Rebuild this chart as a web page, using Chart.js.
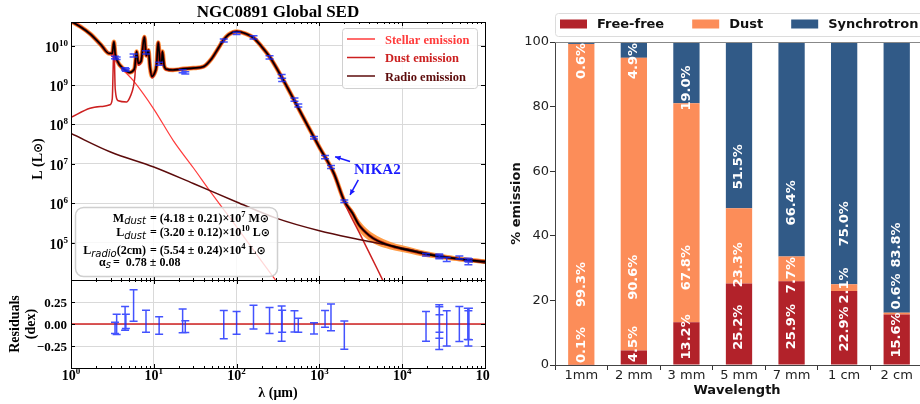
<!DOCTYPE html>
<html>
<head>
<meta charset="utf-8">
<script src="https://cdn.jsdelivr.net/npm/chart.js@4.4.1/dist/chart.umd.min.js"></script>
<style>
  html, body { margin: 0; padding: 0; background: #fff; width: 920px; height: 404px; overflow: hidden; position: relative; }
  canvas { position: absolute; }
  #sed { left: 0; top: 0; }
  #res { left: 0; top: 276px; }
  #bars { left: 490px; top: 0; }
</style>
</head>
<body>
<canvas id="sed" width="490" height="282"></canvas>
<canvas id="res" width="490" height="128"></canvas>
<canvas id="bars" width="433" height="404"></canvas>
<script>
// ---- SED model curves: wavelength (micron), log10 L (Lsun)
const totalLam  = [1, 1.3, 1.7, 2.3, 2.9, 3.15, 3.3, 3.42, 3.6, 4.3, 5.16, 5.6, 5.9, 6.2, 6.5, 7.0, 7.7, 8.1, 8.6, 9.0, 9.5, 10.2, 10.8, 11.3, 11.9, 12.4, 12.7, 13.3, 14.3, 17, 20.7, 30, 40, 50, 60, 70, 80, 100, 130, 160, 200, 250, 300, 400, 500, 700, 1000, 1500, 2000, 2500, 3000, 4000, 5000, 7000, 10000, 15000, 20000, 30000, 50000, 100000];
const totalLogL = [10.62, 10.48, 10.3, 10.02, 9.8, 9.8, 10.1, 9.78, 9.62, 9.41, 9.32, 9.36, 9.45, 9.85, 9.55, 9.6, 10.22, 9.75, 9.88, 9.45, 9.22, 9.3, 9.5, 10.08, 9.6, 9.55, 9.85, 9.5, 9.4, 9.38, 9.4, 9.43, 9.47, 9.67, 9.93, 10.15, 10.28, 10.36, 10.3, 10.2, 9.98, 9.72, 9.45, 8.98, 8.6, 8.02, 7.42, 6.75, 6.05, 5.75, 5.45, 5.18, 5.05, 4.93, 4.84, 4.76, 4.70, 4.64, 4.58, 4.52];

const stellarLam  = [1, 1.3, 1.7, 2.3, 3.24, 4.3, 5.66, 10, 17.2, 30, 50, 100, 200, 320];
const stellarLogL = [10.68, 10.5, 10.3, 10.0, 9.7, 9.38, 9.11, 8.39, 7.59, 6.9, 6.25, 5.4, 4.53, 3.95];

const dustLam  = [1, 1.7, 2.5, 2.96, 3.15, 3.3, 3.42, 3.73, 4.7, 5.3, 5.66, 5.9, 6.2, 6.5, 7.0, 7.7, 8.1, 8.6, 9.0, 9.5, 10.2, 10.8, 11.3, 11.9, 12.4, 12.7, 13.3, 14.3, 17, 20.7, 30, 40, 50, 60, 70, 80, 100, 130, 160, 200, 250, 300, 400, 500, 700, 1000, 1500, 2000, 3000, 5000, 7000];
const dustLogL = [8.18, 8.41, 8.46, 8.5, 8.65, 10.05, 8.9, 8.6, 8.57, 8.75, 8.95, 9.2, 9.8, 9.5, 9.57, 10.2, 9.72, 9.86, 9.42, 9.18, 9.27, 9.47, 10.06, 9.58, 9.53, 9.84, 9.48, 9.38, 9.37, 9.39, 9.42, 9.46, 9.66, 9.92, 10.14, 10.27, 10.355, 10.3, 10.2, 9.98, 9.72, 9.45, 8.98, 8.6, 8.02, 7.41, 6.72, 6.02, 5.27, 4.33, 3.7];

const radioLam  = [1, 3, 10, 30, 100, 300, 1000, 3000, 10000, 30000, 100000];
const radioLogL = [7.77, 7.3, 6.92, 6.5, 6.03, 5.62, 5.3, 5.08, 4.86, 4.66, 4.48];

// posterior spread of the total model
const envLam  = [1000, 1500, 2000, 2500, 3000, 4000, 5000, 7000, 10000, 15000, 20000, 30000, 50000, 100000];
const envHigh = [7.45, 6.79, 6.09, 5.85, 5.58, 5.30, 5.17, 5.03, 4.93, 4.84, 4.78, 4.71, 4.64, 4.57];
const envLow  = [7.39, 6.71, 6.01, 5.65, 5.30, 5.05, 4.93, 4.83, 4.76, 4.68, 4.63, 4.58, 4.52, 4.46];

// ---- photometry
const obsLam  = [3.4, 3.56, 4.5, 4.6, 5.7, 8.05, 11.6, 22.3, 24, 70, 100, 160, 250, 350, 355, 500, 556, 860, 1170, 1380, 2000, 19400, 28000, 28100, 28200, 34500, 49000, 62000, 63000, 64000];
const obsLogL = [9.70, 9.68, 9.41, 9.38, 9.75, 9.83, 9.54, 9.35, 9.31, 10.13, 10.31, 10.21, 9.70, 9.22, 9.13, 8.63, 8.48, 7.66, 7.17, 6.92, 6.05, 4.69, 4.66, 4.63, 4.65, 4.57, 4.62, 4.56, 4.49, 4.55];
const obsErr  = [0.03, 0.03, 0.03, 0.03, 0.04, 0.04, 0.04, 0.04, 0.03, 0.04, 0.03, 0.04, 0.04, 0.05, 0.04, 0.04, 0.04, 0.03, 0.04, 0.04, 0.03, 0.03, 0.05, 0.04, 0.03, 0.05, 0.04, 0.04, 0.05, 0.04];
const resVal  = [-0.044, -0.004, 0.065, 0.03, 0.21, 0.03, -0.017, 0.035, -0.03, -0.008, 0.013, 0.077, 0.04, 0.005, 0.03, 0.03, -0.015, -0.05, 0.058, 0.075, -0.127, -0.027, -0.035, 0.017, 0.005, -0.05, 0.0, 0.002, -0.05, 0.0];
const resErr  = [0.063, 0.115, 0.135, 0.08, 0.18, 0.125, 0.1, 0.135, 0.067, 0.16, 0.13, 0.135, 0.148, 0.2, 0.125, 0.12, 0.08, 0.065, 0.095, 0.152, 0.16, 0.17, 0.255, 0.18, 0.1, 0.2, 0.2, 0.178, 0.2, 0.18];

// ---- emission fractions (%)
const bandLabels  = ['1mm', '2 mm', '3 mm', '5 mm', '7 mm', '1 cm', '2 cm'];
const freeFree    = [0.1, 4.5, 13.2, 25.2, 25.9, 22.9, 15.6];
const dustPct     = [99.3, 90.6, 67.8, 23.3, 7.7, 2.1, 0.6];
const synchrotron = [0.6, 4.9, 19.0, 51.5, 66.4, 75.0, 83.8];

const serif = '"Liberation Serif", "DejaVu Serif", serif';
const sans = '"DejaVu Sans", sans-serif';
const errBlue = 'rgba(20,40,255,0.8)';

function pts(lam, logL) {
  return lam.map((l, i) => ({ x: Math.log10(l), y: logL[i] }));
}

function runs(ctx, parts, x, y, align) {
  let w = 0;
  parts.forEach(p => { ctx.font = p[1]; w += ctx.measureText(p[0]).width; });
  let cx = align === 'right' ? x - w : align === 'center' ? x - w / 2 : x;
  ctx.textAlign = 'left';
  ctx.textBaseline = 'alphabetic';
  parts.forEach(p => {
    ctx.font = p[1];
    ctx.fillText(p[0], cx, y + (p[2] || 0));
    cx += ctx.measureText(p[0]).width;
  });
}

function vtext(ctx, txt, x, y, font, color) {
  ctx.save();
  ctx.translate(x, y);
  ctx.rotate(-Math.PI / 2);
  ctx.font = font;
  ctx.fillStyle = color;
  ctx.textAlign = 'center';
  ctx.textBaseline = 'middle';
  ctx.fillText(txt, 0, 0);
  ctx.restore();
}

function pow10(ctx, exp, x, y, align) {
  runs(ctx, [['10', 'bold 14px ' + serif], [String(exp), 'bold 9px ' + serif, -6]], x, y, align);
}

function frame(ctx, chart, yMajors) {
  const a = chart.chartArea, xs = chart.scales.x, ys = chart.scales.y;
  ctx.save();
  ctx.strokeStyle = '#000';
  ctx.lineWidth = 1;
  ctx.beginPath();
  for (let n = 0; n <= 5; n++) {
    for (let k = 1; k <= 9; k++) {
      const v = n + Math.log10(k);
      if (v > 5.0001) continue;
      const px = Math.round(xs.getPixelForValue(v)) + 0.5;
      const len = k === 1 ? 4 : 2;
      ctx.moveTo(px, a.bottom); ctx.lineTo(px, a.bottom - len);
      ctx.moveTo(px, a.top); ctx.lineTo(px, a.top + len);
    }
  }
  yMajors.forEach(v => {
    const py = Math.round(ys.getPixelForValue(v)) + 0.5;
    ctx.moveTo(a.left, py); ctx.lineTo(a.left + 4, py);
    ctx.moveTo(a.right, py); ctx.lineTo(a.right - 4, py);
  });
  ctx.stroke();
  ctx.strokeRect(Math.round(a.left) + 0.5, Math.round(a.top) + 0.5, Math.round(a.right - a.left), Math.round(a.bottom - a.top));
  ctx.restore();
}

function errorBars(ctx, xs, ys, lam, val, err, cap) {
  ctx.save();
  ctx.strokeStyle = errBlue;
  ctx.lineWidth = 1.5;
  ctx.beginPath();
  lam.forEach((l, i) => {
    const px = xs.getPixelForValue(Math.log10(l));
    const y1 = ys.getPixelForValue(val[i] + err[i]);
    const y2 = ys.getPixelForValue(val[i] - err[i]);
    ctx.moveTo(px, y1); ctx.lineTo(px, y2);
    ctx.moveTo(px - cap, y1); ctx.lineTo(px + cap, y1);
    ctx.moveTo(px - cap, y2); ctx.lineTo(px + cap, y2);
  });
  ctx.stroke();
  ctx.restore();
}

function arrow(ctx, x1, y1, x2, y2) {
  const ang = Math.atan2(y2 - y1, x2 - x1);
  ctx.beginPath();
  ctx.moveTo(x1, y1); ctx.lineTo(x2, y2);
  ctx.stroke();
  ctx.beginPath();
  ctx.moveTo(x2, y2);
  ctx.lineTo(x2 - 6 * Math.cos(ang - 0.45), y2 - 6 * Math.sin(ang - 0.45));
  ctx.lineTo(x2 - 6 * Math.cos(ang + 0.45), y2 - 6 * Math.sin(ang + 0.45));
  ctx.closePath();
  ctx.fill();
}

const gridColor = '#d9d9d9';

// ---------------- SED panel
const sedDecor = {
  id: 'sedDecor',
  afterDatasetsDraw(chart) {
    const ctx = chart.ctx, xs = chart.scales.x, ys = chart.scales.y;
    errorBars(ctx, xs, ys, obsLam, obsLogL, obsErr, 4);
  },
  afterDraw(chart) {
    const ctx = chart.ctx, xs = chart.scales.x, ys = chart.scales.y, a = chart.chartArea;
    frame(ctx, chart, [5, 6, 7, 8, 9, 10]);
    ctx.save();
    ctx.fillStyle = '#000';
    runs(ctx, [['NGC0891 Global SED', 'bold 17px ' + serif]], (a.left + a.right) / 2, 17, 'center');
    for (let k = 5; k <= 10; k++) pow10(ctx, k, 68, ys.getPixelForValue(k) + 6, 'right');
    // y title
    ctx.save();
    ctx.translate(37, (a.top + a.bottom) / 2 + 8);
    ctx.rotate(-Math.PI / 2);
    runs(ctx, [['L (L', 'bold 14px ' + serif], ['\u2299', 'bold 12px ' + sans], [')', 'bold 14px ' + serif]], 0, 5, 'center');
    ctx.restore();

    // legend
    ctx.fillStyle = 'rgba(255,255,255,0.85)';
    ctx.strokeStyle = '#d0d0d0';
    ctx.lineWidth = 1;
    ctx.beginPath();
    ctx.roundRect(342.5, 28.5, 135, 60, 3);
    ctx.fill(); ctx.stroke();
    const leg = [['Stellar emission', '#ff3b3b'], ['Dust emission', '#cc1f1f'], ['Radio emission', '#5c0b0b']];
    leg.forEach((l, i) => {
      const y = 39 + i * 18.5;
      ctx.strokeStyle = l[1];
      ctx.lineWidth = 1.5;
      ctx.beginPath(); ctx.moveTo(347, y); ctx.lineTo(375, y); ctx.stroke();
      ctx.fillStyle = l[1];
      runs(ctx, [[l[0], 'bold 12.5px ' + serif]], 385, y + 4.5, 'left');
    });

    // parameter box
    ctx.fillStyle = 'rgba(255,255,255,0.8)';
    ctx.strokeStyle = '#cfcfcf';
    ctx.beginPath();
    ctx.roundRect(75.5, 207.5, 202, 69, 8);
    ctx.fill(); ctx.stroke();
    ctx.fillStyle = '#000';
    const B = 'bold 12px ' + serif, S = 'bold 8.5px ' + serif, I = 'oblique 10px ' + sans, O = 'bold 11px ' + sans;
    runs(ctx, [['M', B], ['dust', I, 2.5]], 146, 221.5, 'right');
    runs(ctx, [['= (4.18 \u00b1 0.21)\u00d710', B], ['7', S, -5], [' M', B], ['\u2299', O]], 150, 221.5, 'left');
    runs(ctx, [['L', B], ['dust', I, 2.5]], 146, 236, 'right');
    runs(ctx, [['= (3.20 \u00b1 0.12)\u00d710', B], ['10', S, -5], [' L', B], ['\u2299', O]], 150, 236, 'left');
    runs(ctx, [['L', B], ['radio', I, 2.5], ['(2cm)', B]], 146, 254, 'right');
    runs(ctx, [['= (5.54 \u00b1 0.24)\u00d710', B], ['4', S, -5], [' L', B], ['\u2299', O]], 150, 254, 'left');
    runs(ctx, [['\u03b1', B], ['s', I, 2.5]], 111, 265.5, 'right');
    runs(ctx, [['=  0.78 \u00b1 0.08', B]], 113, 265.5, 'left');

    // NIKA2 annotation
    ctx.fillStyle = '#1a1aff';
    ctx.strokeStyle = '#1a1aff';
    ctx.lineWidth = 1.5;
    arrow(ctx, xs.getPixelForValue(3.37), ys.getPixelForValue(7.06), xs.getPixelForValue(3.19), ys.getPixelForValue(7.18));
    arrow(ctx, xs.getPixelForValue(3.47), ys.getPixelForValue(6.59), xs.getPixelForValue(3.37), ys.getPixelForValue(6.21));
    runs(ctx, [['NIKA2', 'bold 15px ' + serif]], xs.getPixelForValue(3.7), ys.getPixelForValue(6.87) + 5, 'center');
    ctx.restore();
  }
};

new Chart(document.getElementById('sed'), {
  type: 'line',
  data: {
    datasets: [
      { data: pts(envLam, envHigh), borderWidth: 0, fill: '+1', backgroundColor: 'rgba(255,140,40,0.85)', order: 10 },
      { data: pts(envLam, envLow), borderWidth: 0, fill: false, order: 10 },
      { data: pts(totalLam, totalLogL), borderColor: '#ff9d45', borderWidth: 4.5, order: 9 },
      { data: pts(totalLam, totalLogL), borderColor: '#b01c0c', borderWidth: 3, order: 8 },
      { data: pts(stellarLam, stellarLogL), borderColor: '#ff3b3b', borderWidth: 1.2, order: 5 },
      { data: pts(dustLam, dustLogL), borderColor: '#cc1f1f', borderWidth: 1.5, order: 4 },
      { data: pts(radioLam, radioLogL), borderColor: '#5c0b0b', borderWidth: 1.5, order: 3 },
      { data: pts(totalLam, totalLogL), borderColor: '#000', borderWidth: 1.6, order: 1 }
    ]
  },
  options: {
    responsive: false,
    animation: false,
    events: [],
    layout: { padding: { top: 22, right: 5, left: 0, bottom: 0 } },
    elements: {
      point: { radius: 0 },
      line: { cubicInterpolationMode: 'monotone', borderJoinStyle: 'round' }
    },
    scales: {
      x: {
        type: 'linear', min: 0, max: 5,
        ticks: { display: false, stepSize: 1 },
        grid: { color: gridColor, drawTicks: false },
        border: { display: false },
        afterFit: s => { s.height = 2; }
      },
      y: {
        type: 'linear', min: 4.05, max: 10.6,
        ticks: { display: false, stepSize: 1 },
        grid: { color: gridColor, drawTicks: false },
        border: { display: false },
        afterFit: s => { s.width = 71; }
      }
    },
    plugins: { legend: { display: false }, tooltip: { enabled: false } }
  },
  plugins: [sedDecor]
});

// ---------------- residual panel
const resDecor = {
  id: 'resDecor',
  afterDatasetsDraw(chart) {
    errorBars(chart.ctx, chart.scales.x, chart.scales.y, obsLam, resVal, resErr, 4);
  },
  afterDraw(chart) {
    const ctx = chart.ctx, xs = chart.scales.x, ys = chart.scales.y, a = chart.chartArea;
    frame(ctx, chart, [-0.25, 0, 0.25]);
    ctx.save();
    ctx.fillStyle = '#000';
    [[0.25, '0.25'], [0, '0.00'], [-0.25, '\u22120.25']].forEach(t => {
      runs(ctx, [[t[1], 'bold 13px ' + serif]], 67, ys.getPixelForValue(t[0]) + 4.5, 'right');
    });
    for (let k = 0; k <= 5; k++) pow10(ctx, k, xs.getPixelForValue(k), 104, 'center');
    runs(ctx, [['\u03bb (\u03bcm)', 'bold 14px ' + serif]], (a.left + a.right) / 2, 121, 'center');
    vtext(ctx, 'Residuals', 15, (a.top + a.bottom) / 2, 'bold 14px ' + serif, '#000');
    vtext(ctx, '(dex)', 31, (a.top + a.bottom) / 2, 'bold 14px ' + serif, '#000');
    ctx.restore();
  }
};

new Chart(document.getElementById('res'), {
  type: 'line',
  data: {
    datasets: [
      { data: [{ x: 0, y: 0 }, { x: 5, y: 0 }], borderColor: '#d02020', borderWidth: 1.3 }
    ]
  },
  options: {
    responsive: false,
    animation: false,
    events: [],
    layout: { padding: { top: 4, right: 5, left: 0, bottom: 0 } },
    elements: { point: { radius: 0 } },
    scales: {
      x: {
        type: 'linear', min: 0, max: 5,
        ticks: { display: false, stepSize: 1 },
        grid: { color: gridColor, drawTicks: false },
        border: { display: false },
        afterFit: s => { s.height = 36; }
      },
      y: {
        type: 'linear', min: -0.5, max: 0.5,
        ticks: { display: false, stepSize: 0.25 },
        grid: { color: gridColor, drawTicks: false },
        border: { display: false },
        afterFit: s => { s.width = 71; }
      }
    },
    plugins: { legend: { display: false }, tooltip: { enabled: false } }
  },
  plugins: [resDecor]
});

// ---------------- emission fractions panel
const barColors = ['#b2222a', '#fc8d59', '#315a87'];

const barDecor = {
  id: 'barDecor',
  afterDatasetsDraw(chart) {
    const ctx = chart.ctx, xs = chart.scales.x, ys = chart.scales.y;
    const unit = (ys.bottom - ys.top) / 100;
    ctx.save();
    ctx.font = 'bold 13px ' + sans;
    ctx.fillStyle = '#fff';
    ctx.textAlign = 'center';
    ctx.textBaseline = 'middle';
    bandLabels.forEach((lab, i) => {
      let base = 0, prevTop = ys.bottom + 1;
      const px = xs.getPixelForValue(i) - 1;
      chart.data.datasets.forEach((ds, j) => {
        const v = ds.data[i];
        const txt = v.toFixed(1) + '%';
        const half = ctx.measureText(txt).width / 2;
        let c = ys.getPixelForValue(base + v / 4) - (j === 0 ? 5.4 * unit : 0);
        if (c + half > prevTop - 3) c = prevTop - 3 - half;
        if (c - half < ys.top + 1) c = ys.top + 1 + half;
        ctx.save();
        ctx.translate(px, c);
        ctx.rotate(-Math.PI / 2);
        ctx.fillText(txt, 0, 1);
        ctx.restore();
        prevTop = c - half;
        base += v;
      });
    });
    ctx.restore();
  },
  afterDraw(chart) {
    const ctx = chart.ctx, a = chart.chartArea;
    ctx.save();
    ctx.strokeStyle = '#888';
    ctx.lineWidth = 1;
    ctx.beginPath();
    ctx.moveTo(a.left, a.top + 0.5); ctx.lineTo(a.right, a.top + 0.5);
    ctx.stroke();
    // legend
    ctx.fillStyle = 'rgba(255,255,255,0.9)';
    ctx.strokeStyle = '#dcdcdc';
    ctx.beginPath();
    ctx.roundRect(65.5, 13.5, 380, 23, 3);
    ctx.fill(); ctx.stroke();
    let x = 70;
    ctx.font = 'bold 13px ' + sans;
    ctx.textAlign = 'left';
    ctx.textBaseline = 'middle';
    chart.data.datasets.forEach(ds => {
      ctx.fillStyle = ds.backgroundColor;
      ctx.fillRect(x, 19.5, 27, 9);
      ctx.fillStyle = '#111';
      ctx.fillText(ds.label, x + 37, 24.5);
      x += 37 + ctx.measureText(ds.label).width + 28;
    });
    // axis titles
    ctx.fillStyle = '#111';
    ctx.textAlign = 'center';
    ctx.textBaseline = 'middle';
    ctx.fillText('Wavelength', (a.left + a.right) / 2 - 2, 391);
    vtext(ctx, '% emission', 27, (a.top + a.bottom) / 2, 'bold 13px ' + sans, '#111');
    ctx.restore();
  }
};

new Chart(document.getElementById('bars'), {
  type: 'bar',
  data: {
    labels: bandLabels,
    datasets: [
      { label: 'Free-free', data: freeFree, backgroundColor: barColors[0] },
      { label: 'Dust', data: dustPct, backgroundColor: barColors[1] },
      { label: 'Synchrotron', data: synchrotron, backgroundColor: barColors[2] }
    ]
  },
  options: {
    responsive: false,
    animation: false,
    events: [],
    datasets: { bar: { barPercentage: 0.5, categoryPercentage: 1 } },
    layout: { padding: { top: 42, right: 0, left: 0, bottom: 0 } },
    scales: {
      x: {
        stacked: true,
        grid: { drawOnChartArea: false, tickLength: 5, color: '#333' },
        border: { color: '#444' },
        ticks: { font: { family: sans, size: 13 }, color: '#222', padding: -2, maxRotation: 0 },
        afterFit: s => { s.height = 39; }
      },
      y: {
        stacked: true, min: 0, max: 100,
        grid: { drawOnChartArea: false, tickLength: 5, color: '#333' },
        border: { color: '#444' },
        ticks: { stepSize: 20, font: { family: sans, size: 13 }, color: '#222', padding: 1 },
        afterFit: s => { s.width = 65; }
      }
    },
    plugins: { legend: { display: false }, tooltip: { enabled: false } }
  },
  plugins: [barDecor]
});
</script>
</body>
</html>
